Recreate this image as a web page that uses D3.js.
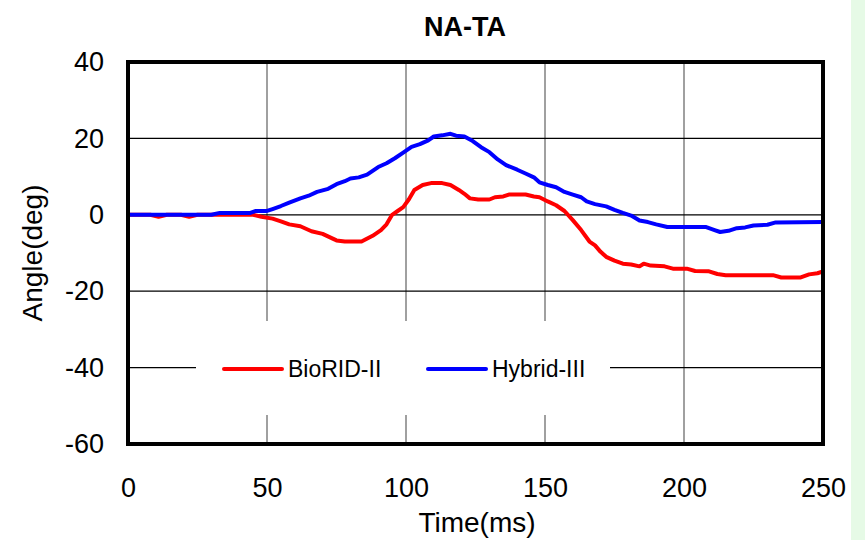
<!DOCTYPE html>
<html>
<head>
<meta charset="utf-8">
<script src="https://cdn.jsdelivr.net/npm/d3@7"></script>
<style>
  body { margin: 0; background: #fff; }
  text { font-family: "Liberation Sans", Arial, sans-serif; fill: #000; }
</style>
</head>
<body>
<script>
// chart data
var xTicks = [0, 50, 100, 150, 200, 250];
var yTicks = [40, 20, 0, -20, -40, -60];

var bioridT = [0, 8, 11, 14, 19, 22, 25, 45, 48, 52, 55, 58, 62, 66, 70, 75, 78, 84, 88, 91, 93, 95, 97, 99, 101, 103, 106, 109, 113, 116, 119, 121, 123, 126, 130, 132, 135, 137, 143, 146, 148, 151, 154, 157, 160, 163, 166, 168, 170, 172, 175, 178, 181, 184, 185.5, 188, 193, 196, 201, 204, 209, 212, 215, 232, 235, 242, 245, 248, 250];
var bioridV = [0, 0, -0.5, 0, 0, -0.5, 0, 0, -0.5, -1, -1.7, -2.5, -3, -4.3, -5, -6.7, -7, -7, -5.5, -4, -2.5, 0, 1, 2, 4, 6.5, 7.8, 8.3, 8.3, 7.8, 6.5, 5.5, 4.3, 4, 4, 4.6, 4.8, 5.3, 5.3, 4.8, 4.6, 3.5, 2.5, 1, -1.4, -4, -7, -8, -9.7, -11, -12, -12.8, -13, -13.5, -12.8, -13.3, -13.5, -14.1, -14.1, -14.7, -14.8, -15.5, -15.8, -15.8, -16.4, -16.4, -15.6, -15.3, -14.8];

var hybridT = [0, 30, 33, 44, 46, 50, 52, 55, 58, 62, 65, 68, 72, 75, 78, 80, 83, 86, 88, 90, 93, 96, 99, 102, 105, 108, 110, 113, 116, 118, 121, 124, 127, 130, 133, 136, 140, 143, 146, 148, 151, 154, 157, 160, 163, 165, 168, 172, 175, 178, 181, 184, 187, 190, 194, 208, 211, 213, 216, 219, 222, 225, 230, 233, 250];
var hybridV = [0, 0, 0.5, 0.5, 1, 1, 1.5, 2.3, 3.2, 4.3, 5, 6, 6.8, 8, 8.8, 9.5, 9.8, 10.5, 11.5, 12.5, 13.5, 14.8, 16.3, 17.8, 18.5, 19.5, 20.5, 20.8, 21.2, 20.7, 20.5, 19.3, 17.7, 16.4, 14.5, 13, 11.8, 10.8, 9.8, 8.5, 7.8, 7.2, 6, 5.3, 4.6, 3.5, 2.8, 2.2, 1.3, 0.5, -0.2, -1.5, -1.9, -2.5, -3.2, -3.2, -4, -4.5, -4.2, -3.5, -3.3, -2.8, -2.6, -2, -1.9];

var seriesNames = ["BioRID-II", "Hybrid-III"];
var seriesColors = ["#ff0000", "#0000ff"];

var W = 865, H = 540;
var margin = {top: 62, right: 42, bottom: 96, left: 128};
var width = W - margin.left - margin.right;
var height = H - margin.top - margin.bottom;

var svg = d3.select("body").append("svg")
  .attr("width", W)
  .attr("height", H);

// light green strip on the right edge
svg.append("rect").attr("x", 851).attr("y", 0).attr("width", 14).attr("height", H)
  .attr("fill", "#e6fae6");

var x = d3.scaleLinear().domain([0, 250]).range([0, width]);
var y = d3.scaleLinear().domain([-60, 40]).range([height, 0]);

var main = svg.append("g")
  .attr("transform", "translate(" + margin.left + "," + margin.top + ")");

// grid lines
main.selectAll(".vgrid").data(xTicks.slice(1, -1)).enter().append("line")
  .attr("x1", function(d) { return x(d); }).attr("x2", function(d) { return x(d); })
  .attr("y1", 0).attr("y2", height)
  .attr("stroke", "#808080").attr("stroke-width", 1.5);

main.selectAll(".hgrid").data(yTicks.slice(1, -1)).enter().append("line")
  .attr("x1", 0).attr("x2", width)
  .attr("y1", function(d) { return y(d); }).attr("y2", function(d) { return y(d); })
  .attr("stroke", "#000").attr("stroke-width", 1.3);

// axes, labels only (plain hyphen for negatives)
var plain = function(d) { return String(d); };

var xAxis = d3.axisBottom(x).tickValues(xTicks).tickFormat(plain).tickSize(0).tickPadding(34);
main.append("g")
  .attr("transform", "translate(0," + height + ")")
  .call(xAxis)
  .call(function(g) { g.select(".domain").remove(); })
  .selectAll("text").style("font-size", "27px").attr("fill", "#000");

var yAxis = d3.axisLeft(y).tickValues(yTicks).tickFormat(plain).tickSize(0).tickPadding(24);
main.append("g")
  .call(yAxis)
  .call(function(g) { g.select(".domain").remove(); })
  .selectAll("text").style("font-size", "27px").attr("fill", "#000");

main.selectAll(".tick text").attr("font-family", null);

// legend box
var legend = main.append("g");
legend.append("rect")
  .attr("x", 196 - margin.left).attr("y", 321 - margin.top)
  .attr("width", 414).attr("height", 94)
  .attr("fill", "#fff");

// series lines
var line = d3.line()
  .x(function(d) { return x(d[0]); })
  .y(function(d) { return y(d[1]); });

var series = [
  d3.zip(bioridT, bioridV),
  d3.zip(hybridT, hybridV)
];

series.forEach(function(s, i) {
  main.append("path")
    .datum(s)
    .attr("d", line)
    .attr("fill", "none")
    .attr("stroke", seriesColors[i])
    .attr("stroke-width", 4)
    .attr("stroke-linejoin", "round");
});

// legend items
var legendX = [224, 428];
seriesNames.forEach(function(name, i) {
  legend.append("line")
    .attr("x1", legendX[i] - margin.left).attr("x2", legendX[i] + 58 - margin.left)
    .attr("y1", 369 - margin.top).attr("y2", 369 - margin.top)
    .attr("stroke", seriesColors[i]).attr("stroke-width", 4)
    .attr("stroke-linecap", "round");
  legend.append("text")
    .attr("x", legendX[i] + 64 - margin.left).attr("y", 377 - margin.top)
    .style("font-size", "23px")
    .text(name);
});

// frame
main.append("rect")
  .attr("x", 0).attr("y", 0).attr("width", width).attr("height", height)
  .attr("fill", "none").attr("stroke", "#000").attr("stroke-width", 4);

// titles
svg.append("text")
  .attr("x", 465).attr("y", 36)
  .attr("text-anchor", "middle")
  .style("font-size", "27px").style("font-weight", "bold")
  .text("NA-TA");

svg.append("text")
  .attr("x", 477).attr("y", 532)
  .attr("text-anchor", "middle")
  .style("font-size", "28px")
  .text("Time(ms)");

svg.append("text")
  .attr("transform", "translate(42," + (margin.top + height / 2) + ") rotate(-90)")
  .attr("text-anchor", "middle")
  .style("font-size", "28px")
  .text("Angle(deg)");
</script>
</body>
</html>
